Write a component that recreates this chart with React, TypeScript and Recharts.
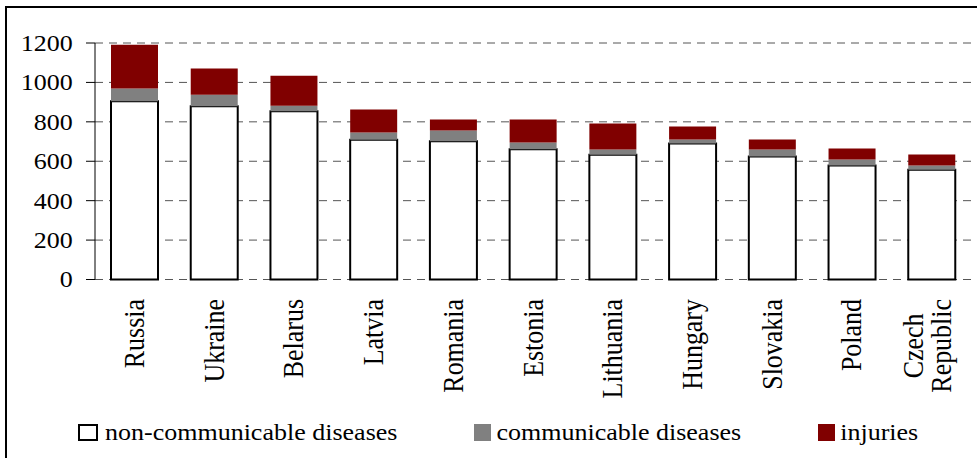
import React from "react"
import { Bar, BarChart, CartesianGrid, XAxis, YAxis } from "recharts"

// deaths per 100 000 by cause
const countries = [
  "Russia",
  "Ukraine",
  "Belarus",
  "Latvia",
  "Romania",
  "Estonia",
  "Lithuania",
  "Hungary",
  "Slovakia",
  "Poland",
  "Czech Republic",
]
const nonCommunicable = [904, 879, 854, 709, 702, 661, 633, 690, 624, 579, 557]
const communicable = [65, 59, 28, 37, 54, 34, 27, 20, 36, 30, 22]
const injuries = [222, 132, 152, 116, 56, 117, 131, 66, 50, 56, 55]
const yTicks = [0, 200, 400, 600, 800, 1000, 1200]

const seriesNames = ["non-communicable diseases", "communicable diseases", "injuries"]
const seriesKeys = ["ncd", "cd", "inj"]
const seriesFills = ["#ffffff", "#808080", "#800000"]

const data = countries.map((name, i) => ({
  name,
  ncd: nonCommunicable[i],
  cd: communicable[i],
  inj: injuries[i],
}))
// category edges, so the x ticks sit between the bars like in Excel
const edges = countries.map((_, i) => i).concat(countries.length)

const FONT = '"Liberation Serif", "Times New Roman", serif'
const SQUASH = 0.895 // the source text is a bit flattened vertically

let ctx: CanvasRenderingContext2D | null = null
function measure(text: string, size: number) {
  if (!ctx) ctx = document.createElement("canvas").getContext("2d")
  if (!ctx) return text.length * size * 0.5
  ctx.font = `${size}px "Liberation Serif"`
  return ctx.measureText(text).width
}

function YTick({ x, y, payload }: any) {
  return (
    <text
      x={x}
      y={y}
      dy={8.8}
      textAnchor="end"
      fontFamily={FONT}
      fontSize={26}
      fill="#000"
      transform={`matrix(1 0 0 ${SQUASH} 0 ${y * (1 - SQUASH)})`}
    >
      {payload.value}
    </text>
  )
}

function XTick({ x, y, payload }: any) {
  const lines = String(payload.value).split(" ")
  const maxW = Math.max(...lines.map((l) => measure(l, 29)))
  return (
    <g transform={`translate(${x},${y}) scale(1,${SQUASH}) rotate(-90)`}>
      {lines.map((l, i) => (
        <text
          key={l}
          x={-maxW / 2}
          y={9 - (lines.length - 1) * 18 + i * 28}
          textAnchor="middle"
          fontFamily={FONT}
          fontSize={29}
          fill="#000"
        >
          {l}
        </text>
      ))}
    </g>
  )
}

function ChartLegend() {
  return (
    <div
      style={{
        position: "absolute",
        left: 78,
        top: 420,
        display: "flex",
        gap: 77,
        fontFamily: FONT,
        fontSize: 26,
        lineHeight: "26px",
        color: "#000",
        whiteSpace: "nowrap",
      }}
    >
      {seriesNames.map((name, i) => (
        <div key={name} style={{ display: "flex", alignItems: "flex-start", gap: i === 0 ? 7 : 5 }}>
          <div
            style={{
              marginTop: 4,
              width: i === 0 ? 20 : 17,
              height: 17,
              boxSizing: "border-box",
              background: seriesFills[i],
              border: i === 0 ? "2px solid #000" : "none",
            }}
          />
          <span style={{ display: "inline-block", transform: `scaleY(${SQUASH})` }}>{name}</span>
        </div>
      ))}
    </div>
  )
}

export default function App() {
  return (
    <div
      style={{
        position: "absolute",
        left: 0,
        top: 0,
        width: 977,
        height: 458,
        overflow: "hidden",
        background: "#fff",
      }}
    >
      <div
        style={{
          position: "absolute",
          left: 5,
          top: 6,
          width: 1000,
          height: 500,
          borderTop: "2px solid #000",
          borderLeft: "2px solid #000",
        }}
      />
      <BarChart width={977} height={458} data={data} margin={{ top: 43, right: 5, left: 0, bottom: 78.5 }}>
        <CartesianGrid vertical={false} stroke="#555" strokeDasharray="8 6" />
        <XAxis
          xAxisId="edges"
          type="number"
          domain={[0, countries.length]}
          ticks={edges}
          tick={false}
          tickSize={7}
          height={0}
          axisLine={{ stroke: "#000" }}
          tickLine={{ stroke: "#000" }}
        />
        <XAxis
          dataKey="name"
          interval={0}
          height={100}
          axisLine={false}
          tickLine={false}
          tickSize={0}
          tickMargin={19.5}
          tick={<XTick />}
        />
        <YAxis
          width={95}
          domain={[0, 1200]}
          ticks={yTicks}
          interval={0}
          tickSize={9}
          tickMargin={13.3}
          axisLine={{ stroke: "#000" }}
          tickLine={{ stroke: "#000" }}
          tick={<YTick />}
        />
        {seriesKeys.map((key, i) => (
          <Bar
            key={key}
            dataKey={key}
            name={seriesNames[i]}
            stackId="a"
            barSize={47}
            fill={seriesFills[i]}
            stroke={i === 0 ? "#000" : "none"}
            strokeWidth={i === 0 ? 2 : 0}
            isAnimationActive={false}
          />
        ))}
      </BarChart>
      <ChartLegend />
    </div>
  )
}
